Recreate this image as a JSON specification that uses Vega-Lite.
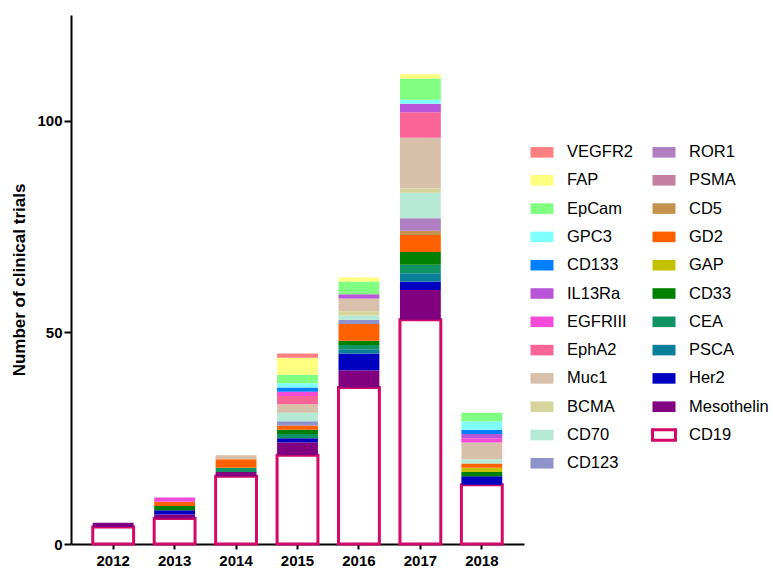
{
  "$schema": "https://vega.github.io/schema/vega-lite/v6.json",
  "width": 453,
  "height": 529,
  "autosize": {"type": "none"},
  "padding": {"left": 71, "top": 15, "right": 249, "bottom": 27},
  "background": "white",
  "config": {
    "view": {"stroke": null},
    "font": "Liberation Sans",
    "axis": {
      "domainColor": "black", "domainWidth": 2, "tickColor": "black", "tickWidth": 2,
      "labelFont": "Liberation Sans", "labelFontWeight": "bold", "labelFontSize": 15, "labelColor": "black",
      "titleFont": "Liberation Sans", "titleFontWeight": "bold", "titleFontSize": 17, "titleColor": "black",
      "grid": false
    },
    "legend": {
      "orient": "none",
      "legendX": 458,
      "legendY": 124,
      "columns": 2,
      "columnPadding": 12,
      "rowPadding": 3.3,
      "symbolType": "M-1,-0.46H1V0.46H-1Z",
      "symbolSize": 529,
      "symbolStrokeWidth": 3,
      "symbolOpacity": 1,
      "labelFont": "Liberation Sans",
      "labelFontSize": 16.5,
      "labelColor": "black",
      "labelOffset": 12,
      "labelLimit": 200
    }
  },
  "datasets": {
    "targets": [
      {"target": "CD19", "level": 1},
      {"target": "Mesothelin", "level": 2},
      {"target": "Her2", "level": 3},
      {"target": "PSCA", "level": 4},
      {"target": "CEA", "level": 5},
      {"target": "CD33", "level": 6},
      {"target": "GAP", "level": 7},
      {"target": "GD2", "level": 8},
      {"target": "CD5", "level": 9},
      {"target": "PSMA", "level": 10},
      {"target": "ROR1", "level": 11},
      {"target": "CD123", "level": 12},
      {"target": "CD70", "level": 13},
      {"target": "BCMA", "level": 14},
      {"target": "Muc1", "level": 15},
      {"target": "EphA2", "level": 16},
      {"target": "EGFRIII", "level": 17},
      {"target": "IL13Ra", "level": 18},
      {"target": "CD133", "level": 19},
      {"target": "GPC3", "level": 20},
      {"target": "EpCam", "level": 21},
      {"target": "FAP", "level": 22},
      {"target": "VEGFR2", "level": 23}
    ]
  },
  "data": {"values": [
    {"year": "2012", "target": "CD19", "count": 4},
    {"year": "2012", "target": "Mesothelin", "count": 1},
    {"year": "2013", "target": "CD19", "count": 6},
    {"year": "2013", "target": "Mesothelin", "count": 1},
    {"year": "2013", "target": "Her2", "count": 1},
    {"year": "2013", "target": "CD33", "count": 1},
    {"year": "2013", "target": "GD2", "count": 1},
    {"year": "2013", "target": "EGFRIII", "count": 1},
    {"year": "2014", "target": "CD19", "count": 16},
    {"year": "2014", "target": "Mesothelin", "count": 1},
    {"year": "2014", "target": "CEA", "count": 1},
    {"year": "2014", "target": "GD2", "count": 2},
    {"year": "2014", "target": "Muc1", "count": 1},
    {"year": "2015", "target": "CD19", "count": 21},
    {"year": "2015", "target": "Mesothelin", "count": 3},
    {"year": "2015", "target": "Her2", "count": 1},
    {"year": "2015", "target": "CEA", "count": 1},
    {"year": "2015", "target": "CD33", "count": 1},
    {"year": "2015", "target": "GD2", "count": 1},
    {"year": "2015", "target": "CD123", "count": 1},
    {"year": "2015", "target": "CD70", "count": 2},
    {"year": "2015", "target": "Muc1", "count": 2},
    {"year": "2015", "target": "EphA2", "count": 2},
    {"year": "2015", "target": "EGFRIII", "count": 1},
    {"year": "2015", "target": "CD133", "count": 1},
    {"year": "2015", "target": "GPC3", "count": 1},
    {"year": "2015", "target": "EpCam", "count": 2},
    {"year": "2015", "target": "FAP", "count": 4},
    {"year": "2015", "target": "VEGFR2", "count": 1},
    {"year": "2016", "target": "CD19", "count": 37},
    {"year": "2016", "target": "Mesothelin", "count": 4},
    {"year": "2016", "target": "Her2", "count": 4},
    {"year": "2016", "target": "PSCA", "count": 1},
    {"year": "2016", "target": "CEA", "count": 1},
    {"year": "2016", "target": "CD33", "count": 1},
    {"year": "2016", "target": "GD2", "count": 4},
    {"year": "2016", "target": "CD123", "count": 1},
    {"year": "2016", "target": "CD70", "count": 1},
    {"year": "2016", "target": "BCMA", "count": 1},
    {"year": "2016", "target": "Muc1", "count": 3},
    {"year": "2016", "target": "IL13Ra", "count": 1},
    {"year": "2016", "target": "EpCam", "count": 3},
    {"year": "2016", "target": "FAP", "count": 1},
    {"year": "2017", "target": "CD19", "count": 53},
    {"year": "2017", "target": "Mesothelin", "count": 7},
    {"year": "2017", "target": "Her2", "count": 2},
    {"year": "2017", "target": "PSCA", "count": 2},
    {"year": "2017", "target": "CEA", "count": 2},
    {"year": "2017", "target": "CD33", "count": 3},
    {"year": "2017", "target": "GD2", "count": 4},
    {"year": "2017", "target": "CD5", "count": 1},
    {"year": "2017", "target": "ROR1", "count": 3},
    {"year": "2017", "target": "CD70", "count": 6},
    {"year": "2017", "target": "BCMA", "count": 1},
    {"year": "2017", "target": "Muc1", "count": 12},
    {"year": "2017", "target": "EphA2", "count": 6},
    {"year": "2017", "target": "IL13Ra", "count": 2},
    {"year": "2017", "target": "GPC3", "count": 1},
    {"year": "2017", "target": "EpCam", "count": 5},
    {"year": "2017", "target": "FAP", "count": 1},
    {"year": "2018", "target": "CD19", "count": 14},
    {"year": "2018", "target": "Her2", "count": 2},
    {"year": "2018", "target": "CD33", "count": 1},
    {"year": "2018", "target": "GAP", "count": 1},
    {"year": "2018", "target": "GD2", "count": 1},
    {"year": "2018", "target": "CD70", "count": 1},
    {"year": "2018", "target": "Muc1", "count": 4},
    {"year": "2018", "target": "EGFRIII", "count": 1},
    {"year": "2018", "target": "IL13Ra", "count": 1},
    {"year": "2018", "target": "CD133", "count": 1},
    {"year": "2018", "target": "GPC3", "count": 2},
    {"year": "2018", "target": "EpCam", "count": 2}
  ]},
  "transform": [
    {"lookup": "target", "from": {"data": {"name": "targets"}, "key": "target", "fields": ["level"]}}
  ],
  "mark": {"type": "bar"},
  "encoding": {
    "x": {
      "field": "year", "type": "nominal",
      "scale": {"paddingInner": 0.335, "paddingOuter": 0.354},
      "axis": {"title": null, "labelAngle": 0, "tickSize": 5, "labelPadding": 4}
    },
    "y": {
      "field": "count", "type": "quantitative", "stack": "zero",
      "scale": {"domain": [0, 125], "nice": false},
      "axis": {"title": "Number of clinical trials", "values": [0, 50, 100], "tickSize": 7, "labelPadding": 2, "titlePadding": 8}
    },
    "order": {"field": "level", "type": "quantitative", "sort": "ascending"},
    "fill": {
      "field": "target", "type": "nominal",
      "scale": {
        "domain": ["VEGFR2", "FAP", "EpCam", "GPC3", "CD133", "IL13Ra", "EGFRIII", "EphA2", "Muc1", "BCMA", "CD70", "CD123", "ROR1", "PSMA", "CD5", "GD2", "GAP", "CD33", "CEA", "PSCA", "Her2", "Mesothelin", "CD19"],
        "range": ["#FF8080", "#FFFF80", "#80FF80", "#80FFFF", "#0080FF", "#B855D8", "#F54CD8", "#FA6496", "#D9C0AA", "#D6D69C", "#B5E9D6", "#8F93CC", "#B07FC2", "#C47FA0", "#C3924E", "#FF6100", "#C2C200", "#008000", "#119463", "#0A7F99", "#0000C0", "#800080", "#FFFFFF"]
      },
      "legend": {"title": null}
    },
    "stroke": {
      "field": "target", "type": "nominal",
      "scale": {
        "domain": ["VEGFR2", "FAP", "EpCam", "GPC3", "CD133", "IL13Ra", "EGFRIII", "EphA2", "Muc1", "BCMA", "CD70", "CD123", "ROR1", "PSMA", "CD5", "GD2", "GAP", "CD33", "CEA", "PSCA", "Her2", "Mesothelin", "CD19"],
        "range": ["transparent", "transparent", "transparent", "transparent", "transparent", "transparent", "transparent", "transparent", "transparent", "transparent", "transparent", "transparent", "transparent", "transparent", "transparent", "transparent", "transparent", "transparent", "transparent", "transparent", "transparent", "transparent", "#D40868"]
      },
      "legend": {"title": null}
    },
    "strokeWidth": {
      "condition": {"test": "datum.target === 'CD19'", "value": 3},
      "value": 0
    }
  }
}
